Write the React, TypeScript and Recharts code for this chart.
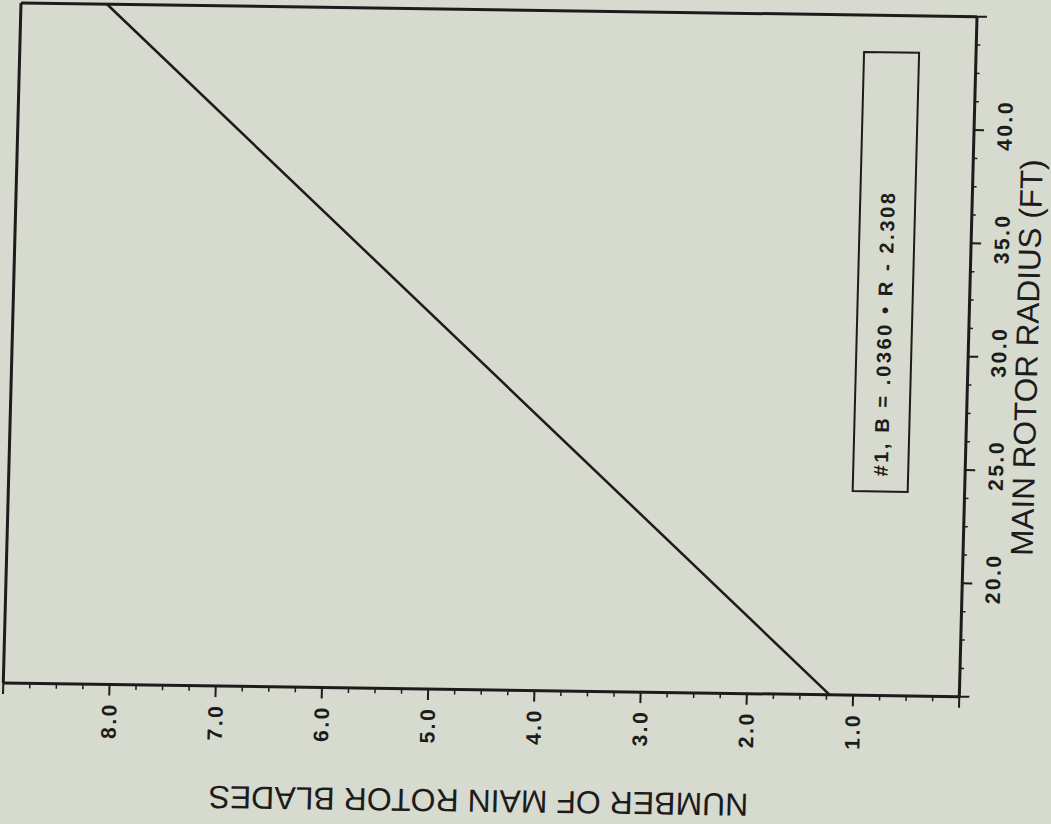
import React from 'react';
import { ComposedChart, XAxis, YAxis, Scatter, ReferenceLine, ReferenceArea } from 'recharts';

// ---- data ----
const lineRadius = [15, 45];
const lineBlades = [1.22, 8.19];

const bladeTicks = [
  0, 0.25, 0.5, 0.75, 1, 1.25, 1.5, 1.75, 2, 2.25, 2.5, 2.75, 3, 3.25, 3.5, 3.75,
  4, 4.25, 4.5, 4.75, 5, 5.25, 5.5, 5.75, 6, 6.25, 6.5, 6.75, 7, 7.25, 7.5, 7.75,
  8, 8.25, 8.5, 8.75, 9,
];
const bladeMajor = [0, 1, 2, 3, 4, 5, 6, 7, 8, 9];
const bladeLabelled = [1, 2, 3, 4, 5, 6, 7, 8];

const radiusTicks = [
  15, 16.25, 17.5, 18.75, 20, 21.25, 22.5, 23.75, 25, 26.25, 27.5, 28.75, 30,
  31.25, 32.5, 33.75, 35, 36.25, 37.5, 38.75, 40, 41.25, 42.5, 43.75, 45,
];
const radiusMajor = [15, 20, 25, 30, 35, 40, 45];
const radiusLabelled = [20, 25, 30, 35, 40];

const xTitle = 'NUMBER OF MAIN ROTOR BLADES';
const yTitle = 'MAIN ROTOR RADIUS (FT)';
const legendText = '#1, B = .0360 \u2022 R - 2.308';
const legendBlades = [1.054, 0.536];
const legendRadius = [24.0, 43.37];

const lineData = lineRadius.map((r, i) => ({ radius: r, blades: lineBlades[i] }));

// ---- styling ----
const INK = '#1c1c1c';
const BG = '#d7dace';
const FONT = "'Liberation Sans', Arial, Helvetica, sans-serif";

const BladeTick = (props: any) => {
  const { x, y, payload } = props;
  const v = payload.value;
  const major = bladeMajor.includes(v);
  const tx = x + 7.5;
  const ty = y + 36;
  return (
    <g>
      <line x1={x} y1={y} x2={x} y2={y + (major ? 11 : 5)} stroke={INK} strokeWidth={major ? 2 : 1.5} />
      {bladeLabelled.includes(v) && (
        <text
          x={tx}
          y={ty}
          transform={`rotate(-90, ${tx}, ${ty})`}
          textAnchor="middle"
          fontFamily={FONT}
          fontSize={21}
          fontWeight="bold"
          letterSpacing={2.5}
          fill={INK}
        >
          {v.toFixed(1)}
        </text>
      )}
    </g>
  );
};

const RadiusTick = (props: any) => {
  const { x, y, payload } = props;
  const v = payload.value;
  const major = radiusMajor.includes(v);
  const tx = x + 38;
  const ty = y - 5;
  return (
    <g>
      <line x1={x} y1={y} x2={x + (major ? 10 : 4)} y2={y} stroke={INK} strokeWidth={major ? 2 : 1.5} />
      {radiusLabelled.includes(v) && (
        <text
          x={tx}
          y={ty}
          transform={`rotate(-90, ${tx}, ${ty})`}
          textAnchor="middle"
          fontFamily={FONT}
          fontSize={21}
          fontWeight="bold"
          letterSpacing={2.5}
          fill={INK}
        >
          {v.toFixed(1)}
        </text>
      )}
    </g>
  );
};

const XTitle = (props: any) => {
  const vb = props.viewBox || {};
  const cx = vb.x + vb.width / 2;
  const cy = vb.y + 100;
  return (
    <text
      x={cx}
      y={cy}
      transform={`rotate(180, ${cx}, ${cy})`}
      textAnchor="middle"
      fontFamily={FONT}
      fontSize={32}
      fill={INK}
    >
      {xTitle}
    </text>
  );
};

const YTitle = (props: any) => {
  const vb = props.viewBox || {};
  const cx = vb.x + 69.5;
  const cy = vb.y + vb.height / 2;
  return (
    <text
      x={cx}
      y={cy}
      transform={`rotate(-90, ${cx}, ${cy})`}
      textAnchor="middle"
      fontFamily={FONT}
      fontSize={31.5}
      fill={INK}
    >
      {yTitle}
    </text>
  );
};

const LegendLabel = (props: any) => {
  const vb = props.viewBox || {};
  const tx = vb.x + vb.width / 2 + 7;
  const ty = vb.y + vb.height - 15;
  return (
    <text
      x={tx}
      y={ty}
      transform={`rotate(-90, ${tx}, ${ty})`}
      textAnchor="start"
      fontFamily={FONT}
      fontSize={20}
      fontWeight="bold"
      letterSpacing={2.6}
      fill={INK}
    >
      {legendText}
    </text>
  );
};

export default function App() {
  return (
    <div
      style={{
        position: 'fixed',
        left: 0,
        top: 0,
        width: 1051,
        height: 824,
        overflow: 'hidden',
        background: BG,
      }}
    >
      <div
        style={{
          position: 'absolute',
          left: 0,
          top: 0,
          width: 1080,
          height: 830,
          transformOrigin: '21px 3px',
          transform: 'matrix(1, 0.01433, -0.02603, 1, 0, 0)',
        }}
      >
        <ComposedChart width={1080} height={830} margin={{ top: 3, left: 21, right: 23, bottom: 27 }}>
          <XAxis
            dataKey="blades"
            type="number"
            domain={[0, 9]}
            reversed
            allowDataOverflow
            ticks={bladeTicks}
            interval={0}
            tickSize={0}
            tickMargin={0}
            tickLine={false}
            tick={<BladeTick />}
            axisLine={{ stroke: INK, strokeWidth: 3 }}
            height={120}
            label={<XTitle />}
          />
          <YAxis
            dataKey="radius"
            type="number"
            orientation="right"
            domain={[15, 45]}
            allowDataOverflow
            ticks={radiusTicks}
            interval={0}
            tickSize={0}
            tickMargin={0}
            tickLine={false}
            tick={<RadiusTick />}
            axisLine={{ stroke: INK, strokeWidth: 3 }}
            width={80}
            label={<YTitle />}
          />
          <ReferenceLine x={9} stroke={INK} strokeWidth={3} />
          <ReferenceLine y={45} stroke={INK} strokeWidth={3} />
          <ReferenceArea
            x1={legendBlades[0]}
            x2={legendBlades[1]}
            y1={legendRadius[0]}
            y2={legendRadius[1]}
            fill="none"
            stroke={INK}
            strokeWidth={2}
            label={<LegendLabel />}
          />
          <Scatter
            data={lineData}
            line={{ stroke: INK, strokeWidth: 2.5 }}
            shape={() => <g />}
            isAnimationActive={false}
          />
        </ComposedChart>
      </div>
    </div>
  );
}
